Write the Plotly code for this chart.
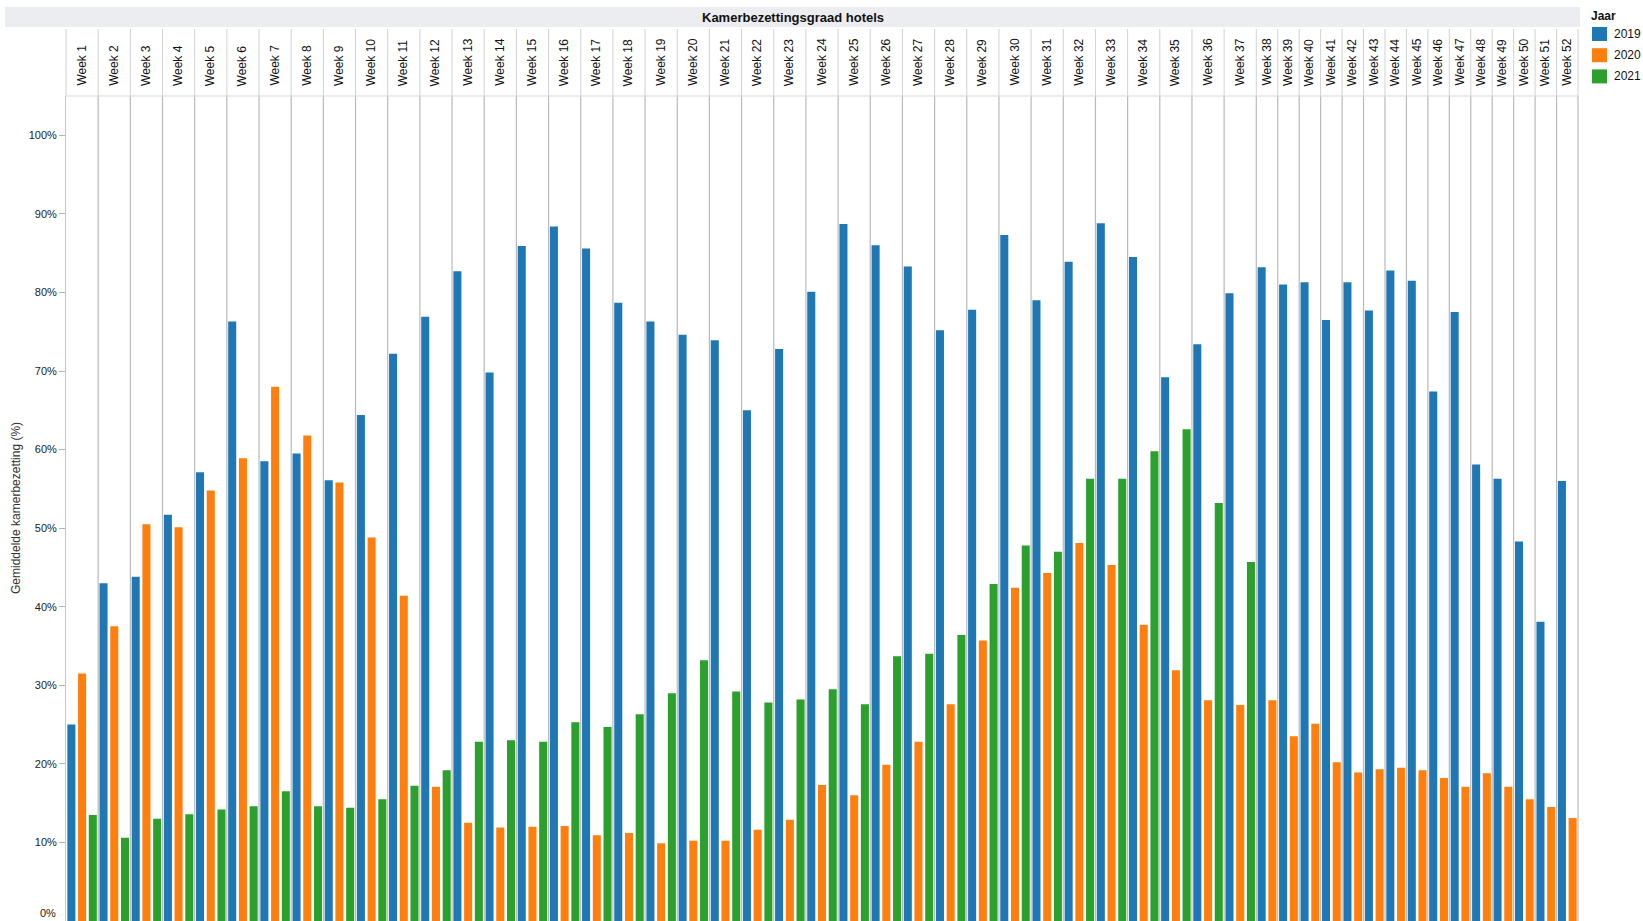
import plotly.graph_objects as go
from plotly.subplots import make_subplots

# ---------------- data ----------------
weeks = [f"Week {i}" for i in range(1, 53)]
years = ["2019", "2020", "2021"]

occ_2019 = [25.0, 43.0, 43.8, 51.7, 57.1, 76.3, 58.5, 59.5, 56.1, 64.4,
            72.2, 76.9, 82.7, 69.8, 85.9, 88.4, 85.6, 78.7, 76.3, 74.6,
            73.9, 65.0, 72.8, 80.1, 88.7, 86.0, 83.3, 75.2, 77.8, 87.3,
            79.0, 83.9, 88.8, 84.5, 69.2, 73.4, 79.9, 83.2, 81.0, 81.3,
            76.5, 81.3, 77.7, 82.8, 81.5, 67.4, 77.5, 58.1, 56.3, 48.3,
            38.1, 56.0]
occ_2020 = [31.5, 37.5, 50.5, 50.1, 54.8, 58.9, 68.0, 61.8, 55.8, 48.8,
            41.4, 17.1, 12.5, 11.9, 12.0, 12.1, 10.9, 11.2, 9.9, 10.2,
            10.2, 11.6, 12.9, 17.3, 16.0, 19.9, 22.8, 27.6, 35.7, 42.4,
            44.3, 48.1, 45.3, 37.7, 31.9, 28.1, 27.5, 28.1, 23.5, 25.1,
            20.2, 18.9, 19.3, 19.5, 19.2, 18.2, 17.1, 18.8, 17.1, 15.5,
            14.5, 13.1]
occ_2021 = [13.5, 10.6, 13.0, 13.6, 14.2, 14.6, 16.5, 14.6, 14.4, 15.5,
            17.2, 19.2, 22.8, 23.0, 22.8, 25.3, 24.7, 26.3, 29.0, 33.2,
            29.2, 27.8, 28.2, 29.5, 27.6, 33.7, 34.0, 36.4, 42.9, 47.8,
            47.0, 56.3, 56.3, 59.8, 62.6, 53.2, 45.7,
            None, None, None, None, None, None, None, None, None, None,
            None, None, None, None, None]

y_ticks = [0, 10, 20, 30, 40, 50, 60, 70, 80, 90, 100]
y_tick_labels = ["0%", "10%", "20%", "30%", "40%", "50%", "60%", "70%", "80%", "90%", "100%"]

series = {"2019": occ_2019, "2020": occ_2020, "2021": occ_2021}
colors = {"2019": "#1f77b4", "2020": "#ff7f0e", "2021": "#2ca02c"}

# ---------------- geometry (pixels) ----------------
W, H = 1643, 921
PL, PR, PT, PB = 66, 1578, 96, 921
FONT = "Liberation Sans, Arial, Helvetica, sans-serif"


def px(p):
    return (p - PL) / (PR - PL)


def py(p):
    return (PB - p) / (PB - PT)


per_week = [[y for y in years if series[y][i] is not None] for i in range(len(weeks))]
counts = [len(p) for p in per_week]
n = len(weeks)

fig = make_subplots(rows=1, cols=n, column_widths=counts,
                    horizontal_spacing=0, shared_yaxes=True)

for i, wk in enumerate(weeks):
    ys = per_week[i]
    fig.add_trace(go.Bar(
        x=ys, y=[series[y][i] for y in ys],
        marker=dict(color=[colors[y] for y in ys], line=dict(width=0)),
        showlegend=False, name=wk,
        hovertemplate=wk + "<br>%{x}: %{y:.1f}%<extra></extra>"),
        row=1, col=i + 1)
    fig.update_xaxes(type="category", categoryorder="array", categoryarray=ys,
                     range=[-0.5, len(ys) - 0.5], showticklabels=False,
                     showgrid=False, zeroline=False, showline=False, ticks="",
                     row=1, col=i + 1)

fig.update_yaxes(range=[0, 105], showgrid=False, zeroline=False)
for i in range(2, n + 1):
    fig.update_yaxes(visible=False, row=1, col=i)
# the 0% label is drawn separately (nudged up so it stays on the page)
fig.update_yaxes(visible=True, showline=True, linecolor="#c8c8c8", linewidth=1,
                 ticks="outside", ticklen=6, tickcolor="#b4b4b4", tickwidth=1,
                 tickvals=y_ticks, ticktext=[""] + y_tick_labels[1:],
                 showticklabels=True,
                 tickfont=dict(size=11, color="#222", family=FONT),
                 row=1, col=1)

shapes = []
annotations = []

annotations.append(dict(text=y_tick_labels[0], xref="paper", yref="paper",
                        x=px(57), y=py(920), xanchor="right", yanchor="bottom",
                        showarrow=False, borderpad=0,
                        font=dict(size=11, color="#222", family=FONT)))

# title band
shapes.append(dict(type="rect", xref="paper", yref="paper",
                   x0=px(5), x1=px(1580), y0=py(27), y1=py(7),
                   fillcolor="#ebedf0", line=dict(width=0), layer="below"))
annotations.append(dict(text="<b>Kamerbezettingsgraad hotels</b>", xref="paper", yref="paper",
                        x=px(793), y=py(17), xanchor="center", yanchor="middle",
                        showarrow=False, font=dict(size=13, color="#111", family=FONT)))

# facet boundaries
bounds = [fig.layout["xaxis" if k == 1 else f"xaxis{k}"].domain for k in range(1, n + 1)]
edges = [bounds[0][0]] + [b[1] for b in bounds]
for k, e in enumerate(edges):
    shapes.append(dict(type="line", xref="paper", yref="paper", x0=e, x1=e,
                       y0=py(96), y1=py(29), line=dict(color="#d2d2d2", width=1)))
    if k > 0:
        shapes.append(dict(type="line", xref="paper", yref="paper", x0=e, x1=e,
                           y0=0, y1=1, line=dict(color="#b9b9b9", width=1.2)))
shapes.append(dict(type="line", xref="paper", yref="paper", x0=edges[0], x1=edges[-1],
                   y0=1, y1=1, line=dict(color="#dadada", width=1)))

# facet header labels
for k, wk in enumerate(weeks):
    cx = (bounds[k][0] + bounds[k][1]) / 2
    annotations.append(dict(text=wk, xref="paper", yref="paper", x=cx, y=py(88),
                            xanchor="center", yanchor="bottom", textangle=-90,
                            showarrow=False, font=dict(size=12, color="#111", family=FONT)))

# y axis title
annotations.append(dict(text="Gemiddelde kamerbezetting (%)", xref="paper", yref="paper",
                        x=px(16), y=py(508), xanchor="center", yanchor="middle",
                        textangle=-90, showarrow=False,
                        font=dict(size=12, color="#333", family=FONT)))

# legend (manual, vega style)
annotations.append(dict(text="<b>Jaar</b>", xref="paper", yref="paper", x=px(1589), y=py(16.5),
                        xanchor="left", yanchor="middle", showarrow=False,
                        font=dict(size=12, color="#111", family=FONT)))
for j, yr in enumerate(years):
    cy = 34 + j * 21.2
    shapes.append(dict(type="rect", xref="paper", yref="paper",
                       x0=px(1592), x1=px(1607), y0=py(cy + 7), y1=py(cy - 7),
                       fillcolor=colors[yr], line=dict(width=0)))
    annotations.append(dict(text=yr, xref="paper", yref="paper", x=px(1612), y=py(cy),
                            xanchor="left", yanchor="middle", showarrow=False,
                            font=dict(size=12, color="#111", family=FONT)))

fig.update_layout(
    width=W, height=H,
    margin=dict(l=PL, r=W - PR, t=PT, b=H - PB, pad=0),
    bargap=0.25,
    plot_bgcolor="white", paper_bgcolor="white",
    font=dict(family=FONT, color="#333"),
    showlegend=False,
    shapes=shapes, annotations=annotations,
)

fig.write_html("out.html", config={"displayModeBar": False},
               post_script="document.body.style.margin='0';document.body.style.overflow='hidden';")
